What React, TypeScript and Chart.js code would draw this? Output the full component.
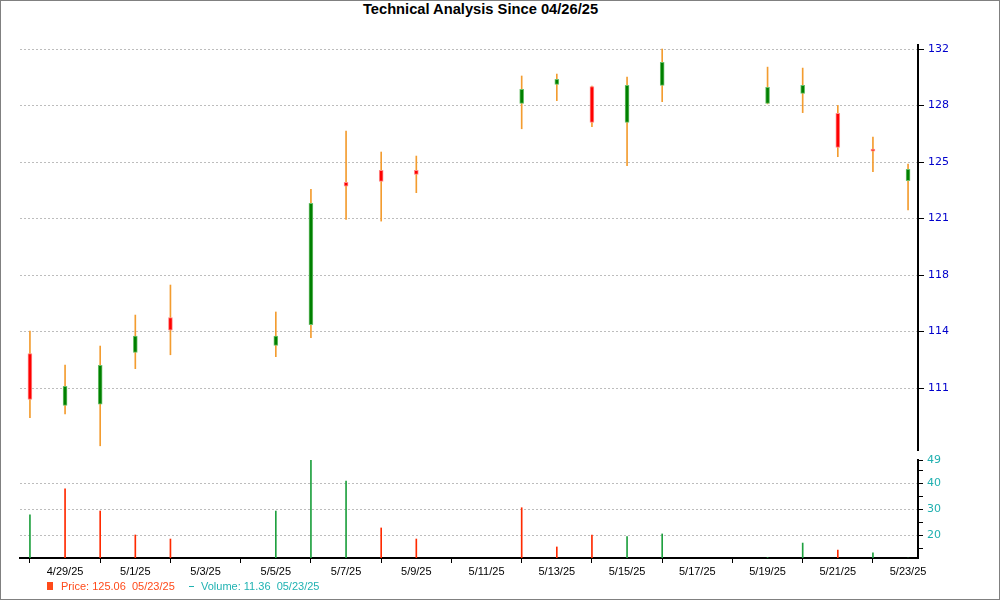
import React, { useEffect, useRef } from "react";
import { Chart, registerables } from "chart.js";

Chart.register(...registerables);

// ---------- data ----------
const chartTitle = "Technical Analysis Since 04/26/25";

const dates = [
  "4/28/25", "4/29/25", "4/30/25", "5/1/25", "5/2/25",
  "5/5/25", "5/6/25", "5/7/25", "5/8/25", "5/9/25",
  "5/12/25", "5/13/25", "5/14/25", "5/15/25", "5/16/25",
  "5/19/25", "5/20/25", "5/21/25", "5/22/25", "5/23/25",
];
const opens = [
  113.14, 109.92, 110.0, 113.2, 115.37,
  113.64, 114.92, 123.74, 124.48, 124.48,
  128.63, 129.81, 129.68, 127.46, 129.75,
  128.63, 129.25, 128.01, 125.8, 123.84,
];
const highs = [
  114.53, 112.42, 113.6, 115.52, 117.38,
  115.71, 123.31, 126.92, 125.62, 125.37,
  130.33, 130.45, 129.7, 130.27, 132.0,
  130.88, 130.82, 128.51, 126.55, 124.88,
];
const lows = [
  109.16, 109.4, 107.42, 112.2, 113.06,
  112.94, 114.12, 121.45, 121.34, 123.1,
  127.06, 128.8, 127.19, 124.77, 128.74,
  128.6, 128.06, 125.33, 124.4, 122.04,
];
const closes = [
  110.29, 111.1, 112.4, 114.22, 114.59,
  114.22, 122.44, 123.5, 123.8, 124.24,
  129.5, 130.12, 127.46, 129.75, 131.17,
  129.63, 129.75, 125.91, 125.68, 124.55,
];
const volumes = [
  27.9, 37.9, 29.4, 20.2, 18.65,
  29.4, 49.0, 40.9, 22.9, 18.65,
  30.67, 15.6, 20.2, 19.6, 20.6,
  11.5, 17.1, 14.4, 13.3, 11.36,
];
const volumeDirs = [
  "up", "down", "down", "down", "down",
  "up", "up", "up", "down", "down",
  "down", "down", "down", "up", "up",
  "up", "up", "down", "up", "up",
];

const xTickDates = [
  "4/29/25", "5/1/25", "5/3/25", "5/5/25", "5/7/25", "5/9/25", "5/11/25",
  "5/13/25", "5/15/25", "5/17/25", "5/19/25", "5/21/25", "5/23/25",
];
const priceTicks = [111, 114.5, 118, 121.5, 125, 128.5, 132];
const volumeLabelTicks = [20, 30, 40, 49];
const volumeGridTicks = [20, 30, 40];
const volumeMinorTicks = [15, 25, 35, 45];

const priceLegend = "Price: 125.06  05/23/25";
const volumeLegend = "Volume: 11.36  05/23/25";

// ---------- styles ----------
const UP_BODY = "#008000";
const UP_EDGE = "#6cbf6c";
const DOWN_BODY = "#ff0000";
const DOWN_EDGE = "#ff8c8c";
const WICK = "#f39c2f";
const VOL_UP = "#1fa03f";
const VOL_DOWN = "#ff2a00";
const GRID = "#bdbdbd";
const PRICE_LABEL = "#0000cc";
const VOL_LABEL = "#20b0b0";
const LEGEND_PRICE = "#ff4a1a";
const LEGEND_VOL = "#20b2b2";

const X_PAD = 0.283;
const PRICE_MIN = 107.16;
const PRICE_MAX = 132.25;
const AXIS_W = 82;

function dayOf(s: string): number {
  const [m, d, y] = s.split("/").map(Number);
  return Date.UTC(2000 + y, m - 1, d) / 86400000;
}
const day0 = dayOf(dates[0]);
const toX = (s: string) => dayOf(s) - day0;
const xMin = -X_PAD;
const xMax = toX(dates[dates.length - 1]) + X_PAD;

export default function App() {
  const priceRef = useRef<HTMLCanvasElement | null>(null);
  const volRef = useRef<HTMLCanvasElement | null>(null);

  useEffect(() => {
    const up = (i: number) => closes[i] >= opens[i];

    const priceChart = new Chart(priceRef.current as HTMLCanvasElement, {
      type: "bar",
      data: {
        datasets: [
          {
            label: "wick",
            data: dates.map((d, i) => ({ x: toX(d), y: [lows[i], highs[i]] })) as any,
            backgroundColor: WICK,
            barThickness: 1,
            grouped: false,
            order: 2,
          } as any,
          {
            label: "body",
            data: dates.map((d, i) => ({ x: toX(d), y: [opens[i], closes[i]] })) as any,
            backgroundColor: dates.map((_, i) => (up(i) ? UP_BODY : DOWN_BODY)),
            borderColor: dates.map((_, i) => (up(i) ? UP_EDGE : DOWN_EDGE)),
            borderWidth: 1,
            borderSkipped: false,
            barThickness: 4,
            grouped: false,
            order: 1,
          } as any,
        ],
      },
      options: {
        animation: false,
        responsive: false,
        maintainAspectRatio: false,
        layout: { padding: { left: 20, right: 0, top: 45, bottom: 12 } },
        plugins: { legend: { display: false }, tooltip: { enabled: false }, title: { display: false } },
        scales: {
          x: { type: "linear", min: xMin, max: xMax, offset: false, display: false },
          y: {
            type: "linear",
            position: "right",
            min: PRICE_MIN,
            max: PRICE_MAX,
            afterBuildTicks: (s: any) => {
              s.ticks = priceTicks.map((v) => ({ value: v }));
            },
            afterFit: (s: any) => {
              s.width = AXIS_W;
            },
            ticks: {
              callback: (v: any) => String(Math.floor(Number(v))),
              color: PRICE_LABEL,
              font: { family: "DejaVu Sans", size: 11 },
              padding: 4,
            },
            grid: {
              color: GRID,
              tickColor: "#000",
              tickLength: 6,
              tickWidth: 1,
              tickBorderDash: [],
            },
            border: { color: "#000", width: 2, dash: [2, 2] },
          },
        },
      } as any,
    });

    const volChart = new Chart(volRef.current as HTMLCanvasElement, {
      type: "bar",
      data: {
        datasets: [
          {
            label: "volume",
            data: dates.map((d, i) => ({ x: toX(d), y: volumes[i] })) as any,
            backgroundColor: volumeDirs.map((v) => (v === "up" ? VOL_UP : VOL_DOWN)),
            barThickness: 1,
            grouped: false,
          } as any,
        ],
      },
      options: {
        animation: false,
        responsive: false,
        maintainAspectRatio: false,
        layout: { padding: { left: 20, right: 0, top: 12, bottom: 12 } },
        plugins: { legend: { display: false }, tooltip: { enabled: false }, title: { display: false } },
        scales: {
          x: {
            type: "linear",
            min: xMin,
            max: xMax,
            offset: false,
            afterBuildTicks: (s: any) => {
              s.ticks = xTickDates.map((d) => ({ value: toX(d) }));
            },
            afterFit: (s: any) => {
              s.height = 30;
            },
            ticks: {
              callback: (_v: any, i: number) => xTickDates[i],
              color: "#000",
              font: { family: "Liberation Sans", size: 11 },
              padding: 2,
              maxRotation: 0,
              autoSkip: false,
            },
            grid: {
              drawOnChartArea: false,
              drawTicks: true,
              tickLength: 5,
              tickColor: "#000",
              tickWidth: 1,
            },
            border: { color: "#000", width: 2 },
          },
          y: {
            type: "linear",
            position: "right",
            min: Math.min(...volumes),
            max: Math.max(...volumes),
            afterBuildTicks: (s: any) => {
              const vals = [...volumeMinorTicks, ...volumeLabelTicks].sort((a, b) => a - b);
              s.ticks = vals.map((v) => ({ value: v }));
            },
            afterFit: (s: any) => {
              s.width = AXIS_W;
            },
            ticks: {
              callback: (v: any) => (volumeLabelTicks.includes(Number(v)) ? String(v) : ""),
              color: VOL_LABEL,
              font: { family: "DejaVu Sans", size: 11 },
              padding: 4,
              autoSkip: false,
            },
            grid: {
              color: (ctx: any) =>
                ctx.tick && volumeGridTicks.includes(ctx.tick.value) ? GRID : "rgba(0,0,0,0)",
              tickColor: "#000",
              tickLength: 5,
              tickWidth: 1,
              tickBorderDash: [],
            },
            border: { color: "#000", width: 2, dash: [2, 2] },
          },
        },
      } as any,
    });

    return () => {
      priceChart.destroy();
      volChart.destroy();
    };
  }, []);

  return (
    <div
      style={{
        position: "absolute",
        left: 0,
        top: 0,
        width: 1000,
        height: 600,
        background: "#fff",
        fontFamily: "Liberation Sans, Arial, sans-serif",
        overflow: "hidden",
      }}
    >
      <div
        style={{
          position: "absolute",
          left: 0,
          top: 1,
          width: 961,
          textAlign: "center",
          fontWeight: "bold",
          fontSize: 14.7,
          lineHeight: "16px",
          color: "#000",
        }}
      >
        {chartTitle}
      </div>
      <canvas
        ref={priceRef}
        width={1000}
        height={462}
        style={{ position: "absolute", left: 0, top: 0, width: 1000, height: 462 }}
      />
      <canvas
        ref={volRef}
        width={1000}
        height={152}
        style={{ position: "absolute", left: 0, top: 448, width: 1000, height: 152 }}
      />
      <div
        style={{
          position: "absolute",
          left: 47,
          top: 582,
          width: 6,
          height: 8,
          background: LEGEND_PRICE,
        }}
      />
      <div
        style={{
          position: "absolute",
          left: 61,
          top: 580,
          fontSize: 11,
          lineHeight: "13px",
          whiteSpace: "pre",
          color: LEGEND_PRICE,
        }}
      >
        {priceLegend}
      </div>
      <div
        style={{
          position: "absolute",
          left: 189,
          top: 586,
          width: 5,
          height: 1,
          background: LEGEND_VOL,
        }}
      />
      <div
        style={{
          position: "absolute",
          left: 201,
          top: 580,
          fontSize: 11,
          lineHeight: "13px",
          whiteSpace: "pre",
          color: LEGEND_VOL,
        }}
      >
        {volumeLegend}
      </div>
      <div
        style={{
          position: "absolute",
          left: 0,
          top: 0,
          width: 1000,
          height: 600,
          boxSizing: "border-box",
          border: "1px solid #808080",
          pointerEvents: "none",
        }}
      />
    </div>
  );
}
